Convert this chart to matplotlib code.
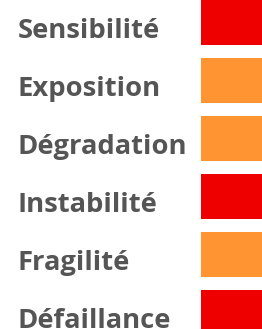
import matplotlib.pyplot as plt
import numpy as np

# data
labels = ["Sensibilité", "Exposition", "Dégradation", "Instabilité", "Fragilité", "Défaillance"]
levels = ["élevé", "moyen", "moyen", "élevé", "moyen", "élevé"]
level_colors = {"élevé": "#EE0000", "moyen": "#FF9433"}

fig = plt.figure(figsize=(2.62, 3.29), dpi=100)
ax = fig.add_axes([0, 0, 1, 1])
ax.set_xlim(0, 262)
ax.set_ylim(329, 0)
ax.axis("off")

centers = 22 + 58 * np.arange(len(labels))
colors = [level_colors[l] for l in levels]
ax.barh(centers, 61, height=45, left=201, color=colors)

for c, lab in zip(centers, labels):
    ax.text(18, c + 16, lab, fontsize=19.7, fontweight="bold", family="Open Sans",
            color="#555555", va="baseline", ha="left")

fig.savefig("out.png", dpi=100)
